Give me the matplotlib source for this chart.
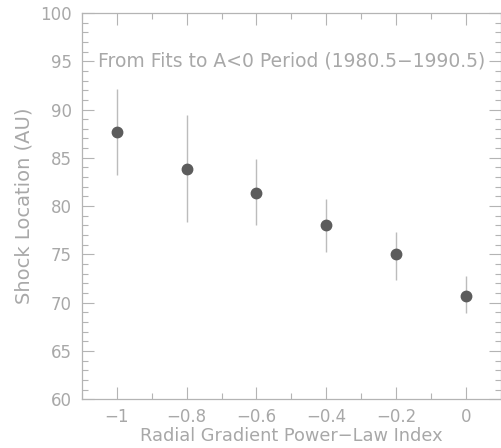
import matplotlib
matplotlib.use('Agg')
from matplotlib import pyplot as plt
from matplotlib.ticker import MultipleLocator

# values
power_index = [-1.0, -0.8, -0.6, -0.4, -0.2, 0.0]
shock_au = [87.7, 83.8, 81.4, 78.0, 75.0, 70.7]
err_upper = [92.1, 89.4, 84.9, 80.7, 77.3, 72.8]
err_lower = [83.2, 78.3, 78.0, 75.2, 72.3, 68.9]

text_color = '#a8a8a8'
frame_color = '#b4b4b4'

plt.rcParams['font.family'] = ['DejaVu Sans']

fig = plt.figure(figsize=(5.02, 4.48), dpi=100)
ax = fig.add_axes([0.163, 0.109, 0.835, 0.862])

yerr = [[s - lo for s, lo in zip(shock_au, err_lower)],
        [hi - s for s, hi in zip(shock_au, err_upper)]]
ax.errorbar(power_index, shock_au, yerr=yerr, fmt='o', color='#5c5c5c',
            markersize=7.5, ecolor='#bcbcbc', elinewidth=1.0, capsize=0)

ax.set_xlim(-1.1, 0.1)
ax.set_ylim(60, 100)
ax.xaxis.set_major_locator(MultipleLocator(0.2))
ax.xaxis.set_minor_locator(MultipleLocator(0.1))
ax.yaxis.set_major_locator(MultipleLocator(5))
ax.yaxis.set_minor_locator(MultipleLocator(1))
ax.set_xticks([-1, -0.8, -0.6, -0.4, -0.2, 0])
ax.set_xticklabels(['\u22121', '\u22120.8', '\u22120.6', '\u22120.4', '\u22120.2', '0'])

ax.tick_params(which='both', direction='in', top=True, right=True,
               color=frame_color, labelcolor=text_color, labelsize=12)
ax.tick_params(which='major', length=8.5, width=0.8)
ax.tick_params(which='minor', length=4, width=0.8)
ax.tick_params(axis='x', pad=6)
ax.tick_params(axis='y', pad=7)
for sp in ax.spines.values():
    sp.set_color(frame_color)
    sp.set_linewidth(0.9)

ax.set_xlabel('Radial Gradient Power\u2212Law Index', color=text_color,
              fontsize=12.8, labelpad=1)
ax.set_ylabel('Shock Location (AU)', color=text_color, fontsize=14,
              labelpad=5)
ax.text(0.5, 0.875, 'From Fits to A<0 Period (1980.5\u22121990.5)',
        transform=ax.transAxes, ha='center', va='center',
        color=text_color, fontsize=13.5)

fig.savefig('out.png', dpi=100)
